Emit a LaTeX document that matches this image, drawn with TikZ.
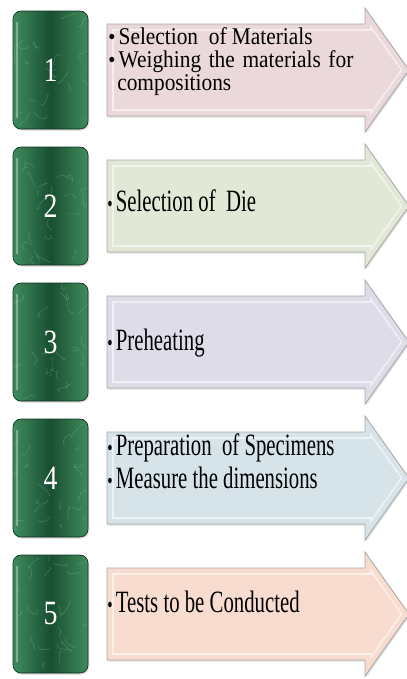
\documentclass[tikz,border=0pt]{standalone}
\usepackage{fontspec}
\setmainfont{Liberation Serif}
\newfontfamily\stepfont[FakeStretch=0.67]{Liberation Serif}
\newfontfamily\firstfont[FakeStretch=0.89]{Liberation Serif}
\newfontfamily\numfont[FakeStretch=0.82]{Liberation Serif}
\usetikzlibrary{shadows,calc}

\definecolor{marbleDark}{HTML}{1A4E31}
\definecolor{marbleEdge}{HTML}{3F8C5E}
\definecolor{marbleVein}{HTML}{8CC9A0}
\definecolor{stepPink}{HTML}{EAD8DA}
\definecolor{stepGreen}{HTML}{E2E8D6}
\definecolor{stepLilac}{HTML}{DEDCE8}
\definecolor{stepBlue}{HTML}{D6E4EA}
\definecolor{stepPeach}{HTML}{F8DCD0}

\newcommand{\stepdot}{{\fontsize{17}{17}\selectfont\textbullet}\hspace{2.5pt}}

\tikzset{
  numbox/.style={rounded corners=6pt, minimum width=56.25pt, minimum height=88.5pt, inner sep=0pt,
    draw=marbleDark!60!black, line width=0.5pt,
    left color=marbleEdge, right color=marbleEdge, middle color=marbleDark,
    text=white, font=\numfont\fontsize{25.5}{25.5}\selectfont,
    drop shadow={opacity=0.3, shadow xshift=0.8pt, shadow yshift=-1.2pt},
    path picture={
      \pgfmathsetseed{\pgfkeysvalueof{/tikz/vein seed}}
      \foreach \k in {1,...,22}
        \draw [marbleVein, draw opacity=0.28, line width=0.5pt]
          ($(path picture bounding box.south west)+(rnd*56pt,rnd*88pt)$)
          .. controls +(rnd*14pt-7pt,rnd*14pt-7pt) and +(rnd*14pt-7pt,rnd*14pt-7pt) ..
          +(rnd*20pt-10pt,rnd*20pt-10pt);
      \draw [white, draw opacity=0.35, line width=1.5pt]
        ([xshift=3pt,yshift=8pt]path picture bounding box.south west) --
        ([xshift=3pt,yshift=-8pt]path picture bounding box.north west);
    }},
  vein seed/.initial=11,
  steparrow/.style={draw=gray!70, line width=0.6pt,
    drop shadow={opacity=0.25, shadow xshift=0.8pt, shadow yshift=-1.2pt}},
  bevel/.style={draw=white, draw opacity=0.55, line width=1.2pt},
  steptext/.style={anchor=base west, inner sep=0pt, font=\stepfont\fontsize{23.25}{23.25}\selectfont},
  firsttext/.style={anchor=north west, inner sep=0pt, align=left,
    font=\firstfont\fontsize{18}{17.25}\selectfont},
}

\begin{document}
\begin{tikzpicture}[x=0.75pt,y=0.75pt,yscale=-1,xscale=1]
\useasboundingbox (0,0) rectangle (407,679);

%Shape: Arrow 1
\draw [steparrow, fill=stepPink] (107,24) -- (365,24) -- (365,8) -- (409,70) -- (365,132) -- (365,116) -- (107,116) -- cycle ;
\draw [bevel] (113,30) -- (371,30) -- (371,27) -- (401.6,70) -- (371,113) -- (371,110) -- (113,110) -- cycle ;
%Shape: Arrow 2
\draw [steparrow, fill=stepGreen] (107,160) -- (365,160) -- (365,144) -- (409,206) -- (365,268) -- (365,252) -- (107,252) -- cycle ;
\draw [bevel] (113,166) -- (371,166) -- (371,163) -- (401.6,206) -- (371,249) -- (371,246) -- (113,246) -- cycle ;
%Shape: Arrow 3
\draw [steparrow, fill=stepLilac] (107,296) -- (365,296) -- (365,280) -- (409,342) -- (365,404) -- (365,388) -- (107,388) -- cycle ;
\draw [bevel] (113,302) -- (371,302) -- (371,299) -- (401.6,342) -- (371,385) -- (371,382) -- (113,382) -- cycle ;
%Shape: Arrow 4
\draw [steparrow, fill=stepBlue] (107,432) -- (365,432) -- (365,416) -- (409,478) -- (365,540) -- (365,524) -- (107,524) -- cycle ;
\draw [bevel] (113,438) -- (371,438) -- (371,435) -- (401.6,478) -- (371,521) -- (371,518) -- (113,518) -- cycle ;
%Shape: Arrow 5
\draw [steparrow, fill=stepPeach] (107,568) -- (365,568) -- (365,552) -- (409,614) -- (365,676) -- (365,660) -- (107,660) -- cycle ;
\draw [bevel] (113,574) -- (371,574) -- (371,571) -- (401.6,614) -- (371,657) -- (371,654) -- (113,654) -- cycle ;

% Number boxes
\node [numbox, vein seed=11] (num1) at (50.5,70) {1};
\node [numbox, vein seed=23] (num2) at (50.5,206) {2};
\node [numbox, vein seed=37] (num3) at (50.5,342) {3};
\node [numbox, vein seed=41] (num4) at (50.5,478) {4};
\node [numbox, vein seed=59] (num5) at (50.5,614) {5};

% Text Node
\node [firsttext] (txt1) at (108,27) {\stepdot Selection\ \ of Materials\\
  \stepdot\makebox[176pt][s]{Weighing the materials for}\\
  \hspace{6.8pt}compositions};
% Text Node
\node [steptext] (txt2) at (107,211) {\stepdot Selection of\ \ Die};
% Text Node
\node [steptext] (txt3) at (107,350) {\stepdot Preheating};
% Text Node
\node [steptext] (txt4a) at (107,455) {\stepdot Preparation\ \ of Specimens};
% Text Node
\node [steptext] (txt4b) at (107,488) {\stepdot Measure the dimensions};
% Text Node
\node [steptext] (txt5) at (107,612) {\stepdot Tests to be Conducted};
\end{tikzpicture}
\end{document}
